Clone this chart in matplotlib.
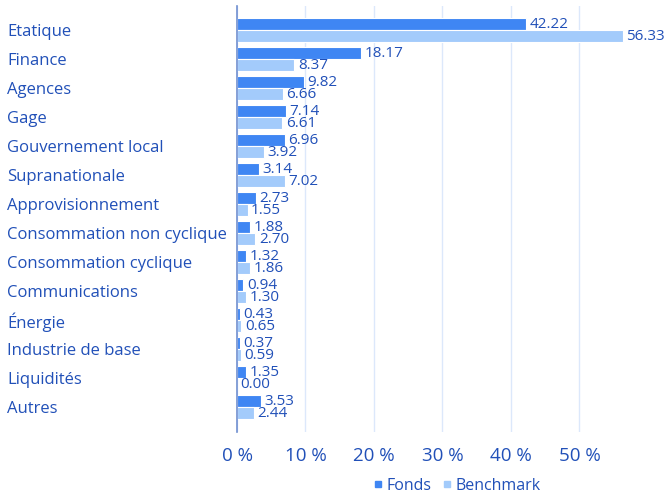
import matplotlib
matplotlib.use("Agg")
import matplotlib.pyplot as plt
from matplotlib.lines import Line2D
import numpy as np

plt.rcParams['font.family'] = ['Open Sans', 'DejaVu Sans']

categories = ["Etatique", "Finance", "Agences", "Gage", "Gouvernement local",
              "Supranationale", "Approvisionnement", "Consommation non cyclique",
              "Consommation cyclique", "Communications", "Énergie",
              "Industrie de base", "Liquidités", "Autres"]
fonds = [42.22, 18.17, 9.82, 7.14, 6.96, 3.14, 2.73, 1.88, 1.32, 0.94, 0.43, 0.37, 1.35, 3.53]
benchmark = [56.33, 8.37, 6.66, 6.61, 3.92, 7.02, 1.55, 2.70, 1.86, 1.30, 0.65, 0.59, 0.00, 2.44]
xticks = [0, 10, 20, 30, 40, 50]
xticklabels = ["0 %", "10 %", "20 %", "30 %", "40 %", "50 %"]
series_names = ["Fonds", "Benchmark"]

c_fonds = "#3f86f3"
c_bench = "#a3cbfb"
c_text = "#2150b8"
c_grid = "#dce8fb"
c_axis = "#6f8fd0"

W, H = 670, 499
fig = plt.figure(figsize=(W/100, H/100), dpi=100)
ax_left, ax_right, ax_top, ax_bottom = 237, 650, 6, 432
ax = fig.add_axes([ax_left/W, 1 - ax_bottom/H, (ax_right-ax_left)/W, (ax_bottom-ax_top)/H])

n = len(categories)
y = np.arange(n)
bh = 0.415
ax.barh(y - bh/2, fonds, height=bh, color=c_fonds, edgecolor="white", linewidth=0.8)
ax.barh(y + bh/2, benchmark, height=bh, color=c_bench, edgecolor="white", linewidth=0.8)

for i in range(n):
    ax.annotate(f"{fonds[i]:.2f}", (fonds[i], y[i] - bh/2), xytext=(2.5, 0),
                textcoords="offset points", va="center", ha="left",
                fontsize=11, color=c_text)
    ax.annotate(f"{benchmark[i]:.2f}", (benchmark[i], y[i] + bh/2), xytext=(2.5, 0),
                textcoords="offset points", va="center", ha="left",
                fontsize=11, color=c_text)

ax.set_ylim(n - 1 + 0.86, -0.83)
ax.set_xlim(0, 60.3)
ax.set_xticks(xticks)
ax.set_xticklabels(xticklabels, fontsize=13.5, color=c_text)
ax.set_yticks(y)
ax.set_yticklabels(categories, fontsize=12, color=c_text)
pad_pt = (ax_left - 7) * 72 / 100
for lbl in ax.get_yticklabels():
    lbl.set_horizontalalignment("left")
ax.tick_params(axis="y", length=0, pad=pad_pt)
ax.tick_params(axis="x", length=0, pad=11)

ax.grid(axis="x", color=c_grid, linewidth=1)
ax.set_axisbelow(True)
for s in ["top", "right", "bottom"]:
    ax.spines[s].set_visible(False)
ax.spines["left"].set_color(c_axis)
ax.spines["left"].set_linewidth(1.2)

handles = [Line2D([], [], marker="s", linestyle="", markersize=4, color=c_fonds),
           Line2D([], [], marker="s", linestyle="", markersize=4, color=c_bench)]
fig.legend(handles, series_names, loc="center", bbox_to_anchor=(456/W, 1 - 486/H),
           ncol=2, frameon=False, fontsize=11.5, labelcolor=c_text,
           handletextpad=0.1, columnspacing=0.6, handlelength=0.8)

fig.savefig("out.png", dpi=100)
